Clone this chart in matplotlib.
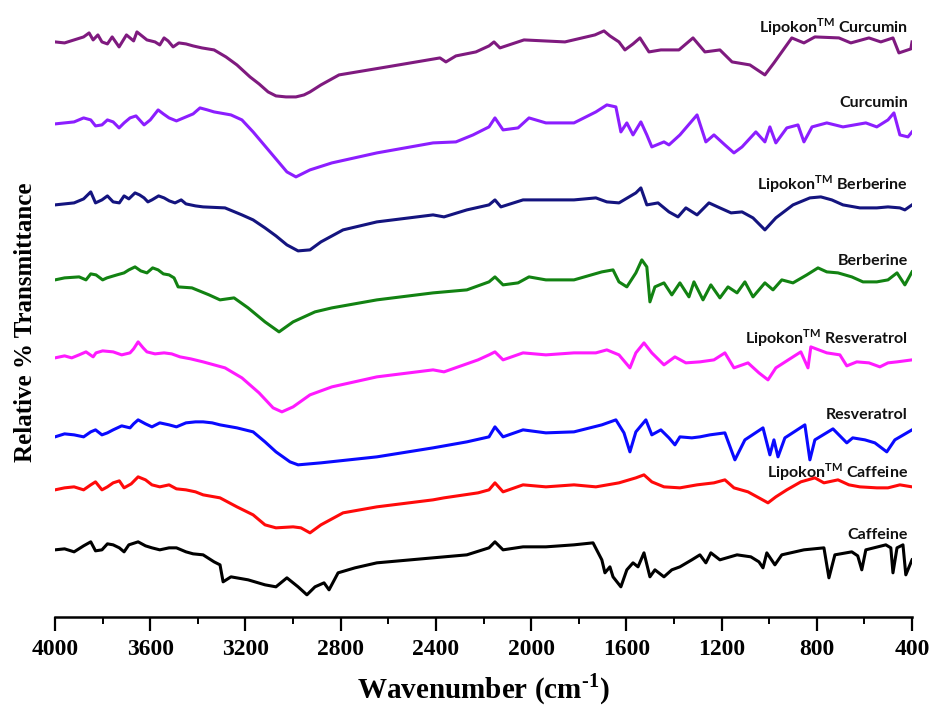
import matplotlib
matplotlib.use("Agg")
import matplotlib.pyplot as plt
from matplotlib.ticker import MultipleLocator

plt.rcParams['mathtext.fontset'] = 'custom'
plt.rcParams['mathtext.sf'] = 'Lato:bold'
plt.rcParams['mathtext.bf'] = 'Liberation Serif:bold'
plt.rcParams['mathtext.rm'] = 'Liberation Serif:bold'

# (wavenumber cm-1, relative transmittance, arbitrary stacked units)
lipokon_curcumin = [(4000,578),(3960,577),(3920,580),(3880,583),(3857,587),(3840,580),(3820,585),(3803,578),
    (3780,576),(3760,583),(3731,573),(3700,585),(3685,582),(3670,579),(3656,588),(3635,584),(3614,580),
    (3580,578),(3560,575),(3542,582),(3525,579),(3504,573),(3480,577),(3450,576),(3420,574),(3383,572),
    (3332,570),(3282,563),(3236,555),(3181,543),(3143,536),
    (3105,528),(3072,524),(3030,523),(2988,523),(2954,525),(2929,528),(2883,535),(2807,545),(2606,553),(2383,562),
    (2358,558),(2316,564),(2232,568),(2177,574),(2156,578),(2131,572),(2030,580),(1858,578),(1732,585),(1694,589),
    (1669,584),(1631,578),(1606,570),(1572,576),(1543,582),(1505,568),(1455,570),(1379,570),(1320,582),(1270,568),
    (1207,570),(1156,558),(1081,555),(1018,545),(980,557),(905,582),(854,577),(808,583),(707,582),(657,577),
    (581,582),(531,578),(480,582),(455,567),(405,571),(400,578)]

curcumin = [(4000,496),(3960,497),(3920,498),(3880,502),(3850,500),(3830,494),(3803,495),(3780,500),(3756,498),
    (3731,492),(3710,497),(3685,502),(3660,504),(3626,495),(3600,500),(3567,510),(3545,506),(3521,502),(3490,499),
    (3450,503),(3420,506),(3391,512),(3360,510),(3332,508),(3261,505),(3215,500),(3168,488),(3097,468),(3026,448),
    (2988,443),(2929,450),(2837,457),(2648,467),(2412,477),(2316,478),(2244,485),(2177,493),(2152,502),(2118,490),
    (2055,492),(2009,502),(1938,497),(1820,497),(1728,508),(1682,515),(1644,513),(1623,488),(1598,497),(1572,485),
    (1539,498),(1514,485),(1493,473),(1442,478),(1421,475),(1375,485),(1303,505),(1266,478),(1232,485),(1186,475),
    (1148,467),(1114,473),(1056,488),(1018,478),(997,493),(972,477),(926,492),(879,495),(854,478),(820,493),
    (758,497),(690,493),(594,497),(548,493),(501,500),(476,507),(451,485),(417,483),(400,488)]

lipokon_berberine = [(4000,415),(3960,416),(3920,417),(3880,421),(3850,428),(3830,417),(3803,420),(3780,424),
    (3756,418),(3730,417),(3710,424),(3690,421),(3664,427),(3645,425),(3626,422),(3610,418),(3593,420),(3565,424),
    (3542,422),(3520,419),(3496,417),(3470,420),(3450,416),(3410,414),(3378,413),(3286,412),(3215,405),(3168,400),
    (3118,392),(3072,384),(3026,375),(2979,369),(2929,370),(2883,378),(2790,390),(2648,398),(2412,405),(2366,403),
    (2270,410),(2177,415),(2152,420),(2127,413),(2034,420),(1938,420),(1820,420),(1728,422),(1682,418),(1631,417),
    (1560,427),(1539,432),(1514,415),(1467,417),(1421,408),(1383,403),(1350,412),(1303,405),(1253,417),(1207,412),
    (1160,407),(1114,408),(1068,402),(1018,390),(972,402),(900,415),(829,422),(783,423),(737,420),(690,415),
    (619,412),(548,412),(501,413),(451,412),(430,410),(400,415)]

berberine = [(4000,340),(3960,342),(3899,343),(3870,340),(3850,346),(3828,345),(3800,340),(3782,342),(3740,345),
    (3710,347),(3690,350),(3664,353),(3640,349),(3614,347),(3590,352),(3567,350),(3545,346),(3521,345),(3500,342),
    (3483,333),(3425,332),(3353,325),(3307,320),(3248,322),(3189,312),(3118,298),(3059,288),(3000,298),(2908,308),
    (2837,312),(2648,320),(2412,327),(2270,330),(2177,338),(2152,343),(2118,335),(2055,337),(2009,343),(1938,340),
    (1820,340),(1703,348),(1656,350),(1631,338),(1598,333),(1560,347),(1535,360),(1514,353),(1501,318),(1480,333),
    (1442,337),(1409,325),(1375,337),(1337,323),(1316,338),(1278,320),(1245,335),(1207,322),(1173,333),(1135,327),
    (1102,338),(1068,323),(1018,337),(984,330),(947,340),(900,337),(842,345),(795,352),(758,348),(711,347),
    (653,343),(606,338),(548,338),(501,340),(463,347),(430,335),(400,348)]

lipokon_resveratrol = [(4000,262),(3960,264),(3930,262),(3899,265),(3870,268),(3840,263),(3828,267),(3800,269),
    (3756,268),(3720,265),(3685,267),(3670,271),(3651,278),(3630,272),(3614,268),(3580,266),(3542,267),(3510,266),
    (3475,263),(3430,261),(3378,258),(3286,252),(3215,242),(3143,227),(3084,212),(3047,208),(3000,213),(2929,225),
    (2837,233),(2648,243),(2412,250),(2366,248),(2223,260),(2177,265),(2152,268),(2118,260),(2034,267),(1938,265),
    (1820,267),(1728,267),(1682,270),(1631,265),(1585,252),(1560,267),(1526,277),(1493,267),(1442,255),(1396,263),
    (1350,257),(1291,258),(1232,260),(1186,267),(1148,252),(1089,257),(1043,247),(1005,240),(972,252),(900,263),
    (867,268),(837,252),(825,273),(758,267),(703,265),(674,254),(632,258),(581,257),(535,253),(501,257),(463,258),
    (400,260)]

resveratrol = [(4000,183),(3960,186),(3920,185),(3880,183),(3850,188),(3830,190),(3803,185),(3780,187),
    (3756,190),(3720,194),(3685,192),(3670,196),(3651,200),(3620,196),(3593,193),(3560,197),(3521,195),(3490,193),
    (3450,197),(3410,198),(3378,198),(3340,197),(3307,195),(3236,192),(3168,188),(3118,178),(3072,168),(3013,158),
    (2979,155),(2883,157),(2648,163),(2412,172),(2270,178),(2177,183),(2152,193),(2118,183),(2034,190),(1938,187),
    (1820,188),(1703,195),(1644,200),(1610,187),(1585,168),(1560,188),(1518,200),(1493,185),(1455,190),(1421,182),
    (1396,175),(1375,183),(1325,182),(1291,183),(1249,185),(1186,187),(1144,160),(1102,180),(1026,192),(997,165),
    (980,180),(963,163),(934,182),(850,195),(829,160),(808,180),(732,191),(674,177),(649,182),(598,180),(556,177),
    (506,168),(472,180),(400,190)]

lipokon_caffeine = [(4000,130),(3960,132),(3920,133),(3880,130),(3850,135),(3830,138),(3803,130),(3780,133),
    (3756,137),(3730,139),(3710,132),(3680,136),(3651,143),(3620,140),(3593,135),(3560,133),(3521,135),(3490,131),
    (3450,130),(3410,128),(3378,125),(3307,122),(3236,113),(3168,105),(3118,95),(3072,92),(3000,93),(2967,92),
    (2929,87),(2883,95),(2790,107),(2648,113),(2412,120),(2366,122),(2223,127),(2177,130),(2152,137),(2118,128),
    (2034,135),(1938,133),(1820,135),(1728,133),(1631,137),(1560,142),(1526,145),(1493,138),(1442,133),(1375,132),
    (1303,135),(1232,137),(1186,140),(1148,132),(1089,128),(1043,122),(1005,117),(972,123),(926,130),(867,138),
    (808,142),(770,137),(711,140),(665,135),(619,133),(548,132),(501,132),(451,135),(400,133)]

caffeine = [(4000,70),(3960,71),(3920,68),(3880,74),(3850,78),(3830,69),(3803,70),(3780,76),(3756,75),(3730,72),
    (3710,68),(3690,75),(3651,78),(3620,74),(3593,72),(3560,70),(3521,72),(3490,72),(3450,68),(3420,66),(3378,65),
    (3332,58),(3307,55),(3294,38),(3261,43),(3189,40),(3118,35),(3072,33),(3026,42),(2979,33),(2942,25),
    (2908,33),(2870,37),(2849,30),(2811,47),(2740,52),(2648,57),(2412,62),(2270,65),(2177,72),(2152,78),(2118,70),
    (2034,73),(1938,73),(1820,75),(1740,77),(1703,60),(1690,47),(1669,53),(1656,43),(1623,33),(1598,50),(1572,57),
    (1551,53),(1526,67),(1501,43),(1480,50),(1442,43),(1409,50),(1375,53),(1325,60),(1291,65),(1266,57),(1245,67),
    (1207,60),(1135,65),(1077,63),(1043,58),(1026,52),(1010,67),(976,55),(947,65),(854,70),(770,72),(749,42),
    (724,65),(653,68),(628,64),(611,50),(594,70),(510,75),(489,72),(480,47),(463,72),(438,75),(426,45),(400,60)]

names = [r'Lipokon$^{\mathsf{TM}}$ Curcumin', 'Curcumin', r'Lipokon$^{\mathsf{TM}}$ Berberine', 'Berberine',
         r'Lipokon$^{\mathsf{TM}}$ Resveratrol', 'Resveratrol', r'Lipokon$^{\mathsf{TM}}$ Caffeine', 'Caffeine']
series = [lipokon_curcumin, curcumin, lipokon_berberine, berberine,
          lipokon_resveratrol, resveratrol, lipokon_caffeine, caffeine]
colors = ['#7f1a7f', '#8c1eff', '#14147f', '#128212', '#ff1aff', '#0a0aff', '#ff0a0a', '#000000']
label_y = [593, 517, 436, 359, 282, 205, 148, 85]

fig = plt.figure(figsize=(9.33, 7.09), dpi=100)
ax = fig.add_axes([0.059, 0.13, 0.9185, 0.856])

for data, c in zip(series, colors):
    data = sorted(data, reverse=True)
    wn = [p[0] for p in data]
    t = [p[1] for p in data]
    ax.plot(wn, t, color=c, lw=2.2)

for name, ly in zip(names, label_y):
    ax.text(418, ly, name, ha='right', va='center', fontsize=11.5,
            fontfamily='Lato', fontweight='bold', color='#111111')

ax.set_xlim(4000, 400)
ax.set_ylim(3, 610)
ax.xaxis.set_major_locator(MultipleLocator(400))
ax.xaxis.set_minor_locator(MultipleLocator(200))
ax.set_yticks([])
for s in ['top', 'right', 'left']:
    ax.spines[s].set_visible(False)
ax.spines['bottom'].set_linewidth(1.8)
ax.tick_params(axis='x', which='major', direction='out', length=10, width=1.6, pad=6)
ax.tick_params(axis='x', which='minor', direction='out', length=5, width=1.4)
for lab in ax.get_xticklabels():
    lab.set_fontfamily('Liberation Serif')
    lab.set_fontweight('bold')
    lab.set_fontsize(17)

ax.set_xlabel(r'Wavenumber (cm$^{\mathbf{{\text{-}}1}}$)', fontfamily='Liberation Serif', fontweight='bold',
              fontsize=21, labelpad=8)
fig.text(0.027, 0.545, 'Relative % Transmittance', rotation=90, ha='center', va='center',
         fontfamily='Liberation Serif', fontweight='bold', fontsize=18)

fig.savefig('out.png', dpi=100)
